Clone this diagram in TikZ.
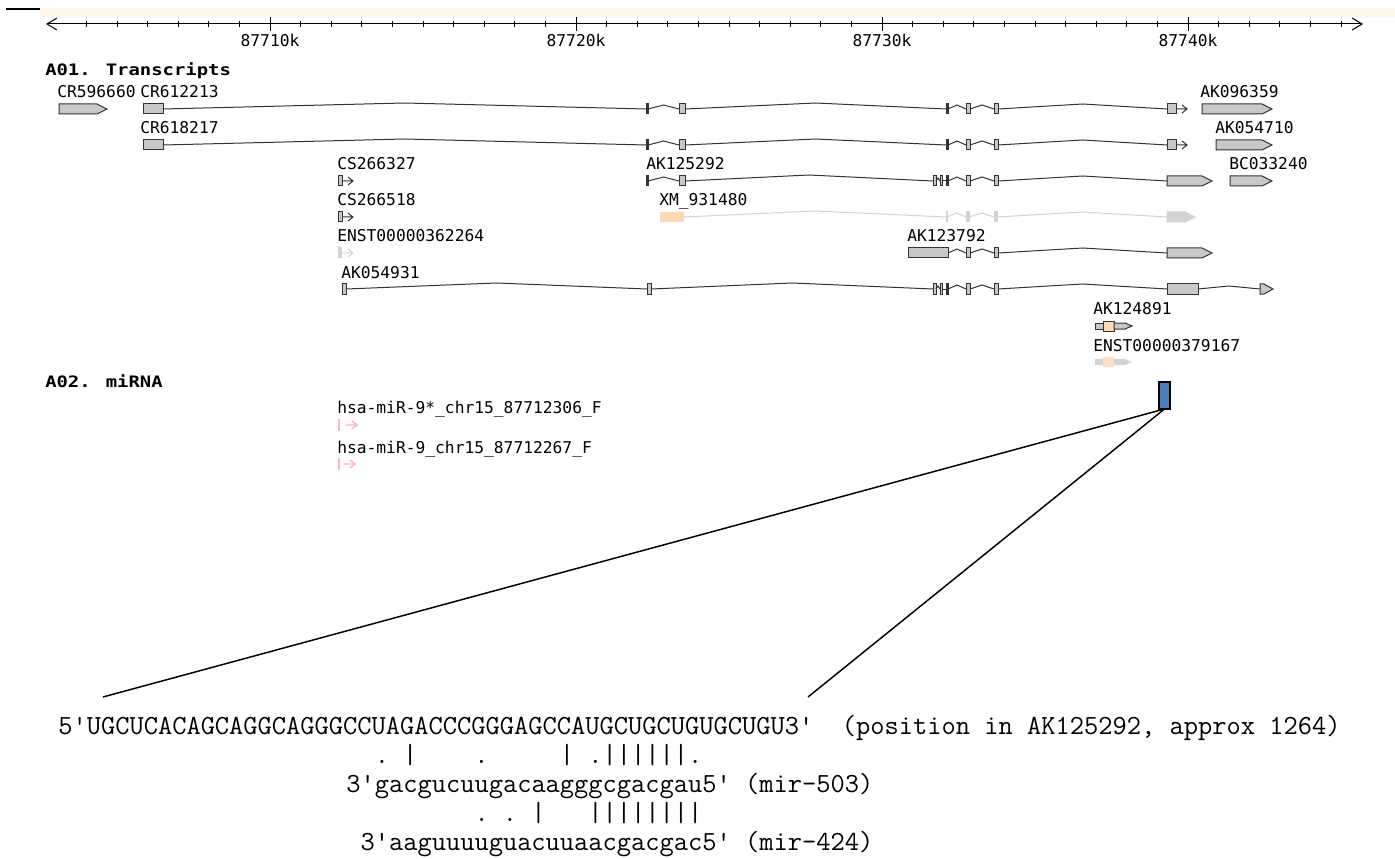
\documentclass[tikz,border=0pt]{standalone}
\usepackage{fontspec}
\usetikzlibrary{arrows.meta}
\newfontfamily\lblfont{DejaVu Sans Mono}
\newfontfamily\headfont{DejaVu Sans Mono}[FakeStretch=1.2]
\definecolor{exongray}{HTML}{C8C8C8}
\definecolor{exonline}{HTML}{333333}
\definecolor{fadegray}{HTML}{D2D2D2}
\definecolor{peach}{HTML}{FDD8B4}
\definecolor{fadepeach}{HTML}{FBDFC6}
\definecolor{mirpink}{HTML}{FFB6C1}
\definecolor{mirblue}{HTML}{4A7DBA}
\definecolor{cream}{HTML}{FDF7EA}
\tikzset{
  exon/.style={draw=exonline, fill=exongray, line width=0.75pt},
  exonbar/.style={draw=exonline, fill=exonline, line width=0.75pt},
  fadeexon/.style={draw=fadegray, fill=fadegray, line width=0.75pt},
  intronline/.style={draw=exonline, line width=0.75pt},
  fadeline/.style={draw=fadegray, line width=0.75pt},
  pinkline/.style={draw=mirpink, line width=1.1pt},
  lbl/.style={anchor=base west, inner sep=0pt, font=\lblfont\fontsize{12.2}{14}\selectfont},
  axlbl/.style={anchor=base, inner sep=0pt, font=\lblfont\fontsize{12.2}{14}\selectfont},
  headlbl/.style={anchor=base west, inner sep=0pt, font=\headfont\bfseries\fontsize{11.8}{14}\selectfont},
  seqlbl/.style={anchor=base west, inner sep=0pt, font=\ttfamily\fontsize{20.75}{24}\selectfont},
  zoomline/.style={line width=1.1pt}
}
% glyph helpers, all in pixel units
\newcommand{\exonbox}[4][exon]{\draw[#1] (#2,{#4-5}) rectangle (#3,{#4+5});}
\newcommand{\exonarrow}[4][exon]{\draw[#1] (#2,{#4-5}) -- ({#3-10},{#4-5}) -- (#3,#4) -- ({#3-10},{#4+5}) -- (#2,{#4+5}) -- cycle;}
\newcommand{\intronhat}[5][intronline]{\draw[#1] (#2,#4) -- ({(#2+#3)/2},{#4-#5}) -- (#3,#4);}
\newcommand{\strandarrow}[3][intronline]{\draw[#1] ({#2-11},#3) -- (#2,#3) ({#2-5},{#3-4}) -- (#2,#3) -- ({#2-5},{#3+4});}
\begin{document}
\begin{tikzpicture}[x=0.75pt,y=-0.75pt]
\useasboundingbox (0,0) rectangle (1395,859);

% top band and scale
\fill[cream] (40,8) rectangle (1395,17);
\draw[line width=1.5pt] (6,9) -- (40,9);
\draw[line width=0.75pt, {Straight Barb[length=7.5pt,width=9pt]}-{Straight Barb[length=7.5pt,width=9pt]}] (46,24) -- (1363,24);
\foreach \k in {-6,...,35} {
  \draw[line width=0.75pt] ({270+30.6*(\k)},21) -- ({270+30.6*(\k)},27);
}
\foreach \x/\t in {270/87710k, 576/87720k, 882/87730k, 1188/87740k} {
  \draw[line width=0.75pt] (\x,17) -- (\x,31);
  \node[axlbl] (tick\t) at (\x,47) {\t};
}

% A01 transcripts
\node[headlbl] (headA01) at (45,76) {A01. Transcripts};

% track 1
\node[lbl] (cr596660) at (57,98) {CR596660};
\node[lbl] (cr612213) at (140,98) {CR612213};
\node[lbl] (ak096359) at (1200,98) {AK096359};
\exonarrow{59}{107}{109}
\exonbox{143}{163}{109}
\intronhat{163}{646}{109}{6}
\exonbox[exonbar]{646}{648}{109}
\intronhat{648}{679}{109}{4}
\exonbox{679}{685}{109}
\intronhat{685}{946}{109}{6}
\exonbox[exonbar]{946}{948}{109}
\intronhat{948}{966}{109}{4}
\exonbox{966}{970}{109}
\intronhat{970}{994}{109}{4}
\exonbox{994}{998}{109}
\intronhat{998}{1167}{109}{5}
\exonbox{1167}{1176}{109}
\strandarrow{1187}{109}
\exonarrow{1202}{1272}{109}

% track 2
\node[lbl] (cr618217) at (140,134) {CR618217};
\node[lbl] (ak054710) at (1215,134) {AK054710};
\exonbox{143}{163}{145}
\intronhat{163}{646}{145}{6}
\exonbox[exonbar]{646}{648}{145}
\intronhat{648}{679}{145}{4}
\exonbox{679}{685}{145}
\intronhat{685}{946}{145}{6}
\exonbox[exonbar]{946}{948}{145}
\intronhat{948}{966}{145}{4}
\exonbox{966}{970}{145}
\intronhat{970}{994}{145}{4}
\exonbox{994}{998}{145}
\intronhat{998}{1167}{145}{5}
\exonbox{1167}{1176}{145}
\strandarrow{1187}{145}
\exonarrow{1216}{1272}{145}

% track 3
\node[lbl] (cs266327) at (337,170) {CS266327};
\node[lbl] (ak125292) at (646,170) {AK125292};
\node[lbl] (bc033240) at (1229,170) {BC033240};
\exonbox{338}{342}{181}
\strandarrow{353}{181}
\exonbox[exonbar]{646}{648}{181}
\intronhat{648}{679}{181}{4}
\exonbox{679}{685}{181}
\intronhat{685}{933}{181}{6}
\exonbox{933}{936}{181}
\intronhat{936}{940}{181}{3}
\exonbox{940}{942}{181}
\draw[intronline] (942,181) -- (946,181);
\exonbox[exonbar]{946}{948}{181}
\intronhat{948}{966}{181}{4}
\exonbox{966}{970}{181}
\intronhat{970}{994}{181}{4}
\exonbox{994}{998}{181}
\intronhat{998}{1167}{181}{5}
\exonarrow{1167}{1212}{181}
\exonarrow{1230}{1272}{181}

% track 4
\node[lbl] (cs266518) at (337,206) {CS266518};
\node[lbl] (xm931480) at (659,206) {XM\_931480};
\exonbox{338}{342}{217}
\strandarrow{353}{217}
\fill[peach] (660,212) rectangle (684,222);
\intronhat[fadeline]{684}{946}{217}{6}
\exonbox[fadeexon]{946}{947}{217}
\intronhat[fadeline]{947}{966}{217}{4}
\exonbox[fadeexon]{966}{969}{217}
\intronhat[fadeline]{969}{994}{217}{4}
\exonbox[fadeexon]{994}{997}{217}
\intronhat[fadeline]{997}{1167}{217}{5}
\exonarrow[fadeexon]{1167}{1195}{217}

% track 5
\node[lbl] (enst362264) at (337,242) {ENST00000362264};
\node[lbl] (ak123792) at (907,242) {AK123792};
\exonbox[fadeexon]{338}{341}{253}
\strandarrow[fadeline]{353}{253}
\exonbox{908}{948}{253}
\intronhat{948}{966}{253}{4}
\exonbox{966}{970}{253}
\intronhat{970}{994}{253}{4}
\exonbox{994}{998}{253}
\intronhat{998}{1167}{253}{5}
\exonarrow{1167}{1212}{253}

% track 6
\node[lbl] (ak054931) at (341,279) {AK054931};
\exonbox{342}{346}{289}
\intronhat{346}{647}{289}{6}
\exonbox{647}{651}{289}
\intronhat{651}{933}{289}{6}
\exonbox{933}{936}{289}
\intronhat{936}{940}{289}{3}
\exonbox{940}{942}{289}
\draw[intronline] (942,289) -- (946,289);
\exonbox[exonbar]{946}{948}{289}
\intronhat{948}{966}{289}{4}
\exonbox{966}{970}{289}
\intronhat{970}{994}{289}{4}
\exonbox{994}{998}{289}
\intronhat{998}{1167}{289}{5}
\exonbox{1167}{1198}{289}
\intronhat{1198}{1260}{289}{3}
\draw[exon] (1260,284) -- (1264,284) -- (1273,289) -- (1264,294) -- (1260,294) -- cycle;

% track 7
\node[lbl] (ak124891) at (1093,315) {AK124891};
\draw[exon] (1095,323) rectangle (1103,329);
\draw[exon, fill=peach] (1103,321) rectangle (1114,331);
\draw[exon] (1114,323) -- (1125,323) -- (1132,326) -- (1125,329) -- (1114,329) -- cycle;

% track 8
\node[lbl] (enst379167) at (1093,351) {ENST00000379167};
\fill[fadegray] (1095,359) rectangle (1103,365);
\fill[fadepeach] (1103,357) rectangle (1114,367);
\fill[fadegray] (1114,359) -- (1125,359) -- (1132,362) -- (1125,365) -- (1114,365) -- cycle;

% A02 miRNA
\node[headlbl] (headA02) at (45,387) {A02. miRNA};
\node[lbl] (mir9star) at (337,413) {hsa-miR-9*\_chr15\_87712306\_F};
\draw[pinkline] (339,419) -- (339,431);
\strandarrow[pinkline]{357}{425}
\draw[pinkline] (339,458) -- (339,470);
\strandarrow[pinkline]{355}{464}
\node[lbl] (mir9) at (337,453) {hsa-miR-9\_chr15\_87712267\_F};
\node[draw=black, fill=mirblue, line width=1.1pt, inner sep=0pt, outer sep=0pt,
      minimum width=8.25pt, minimum height=20.25pt] (hit) at (1164.5,395.5) {};

% zoom onto the site
\coordinate (seqL) at (103,697);
\coordinate (seqR) at (808,697);
\draw[zoomline] (hit.south) -- (seqL);
\draw[zoomline] (hit.south) -- (seqR);

% alignment
\node[seqlbl] (target) at (58,734) {5'UGCUCACAGCAGGCAGGGCCUAGACCCGGGAGCCAUGCUGCUGUGCUGU3'~~(position in AK125292, approx 1264)};
\node[seqlbl] (pair503) at (346,763) {~~.~|~~~~.~~~~~|~.||||||.};
\node[seqlbl] (mir503) at (346,792) {3'gacgucuugacaagggcgacgau5'~(mir-503)};
\node[seqlbl] (pair424) at (346,821) {~~~~~~~~~.~.~|~~~||||||||};
\node[seqlbl] (mir424) at (346,850) {~3'aaguuuuguacuuaacgacgac5'~(mir-424)};
\end{tikzpicture}
\end{document}
